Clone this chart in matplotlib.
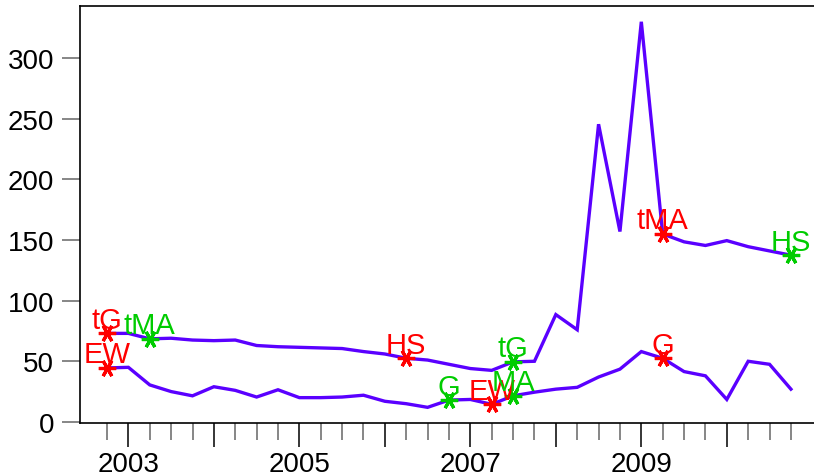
import matplotlib
matplotlib.use("Agg")
import matplotlib.pyplot as plt
import numpy as np
from matplotlib.ticker import FixedLocator, FuncFormatter

plt.rcParams["font.family"] = ["Liberation Sans", "DejaVu Sans"]

# quarterly observations, 2002Q4 .. 2010Q4
start_year = 2002.75
upper = [73, 73, 68.5, 69, 67.5, 67, 67.5, 63, 62, 61.5, 61, 60.5, 58, 56, 52.5,
         51, 47.5, 44, 42.5, 49.5, 50, 88.5, 76, 245.5, 157, 330, 155, 148.5,
         145.5, 149.5, 144.5, 141, 137.5]
lower = [44.5, 45, 30.5, 25, 21.5, 29, 26, 20.5, 26.5, 20, 20, 20.5, 22, 17, 15,
         12, 18, 18.5, 14.5, 21.5, 24.5, 27, 28.5, 37, 43.5, 58, 52.5, 41.5, 38,
         18.5, 50, 47.5, 27]

# event markers: (series, quarter index, label)
red_events = [("upper", 0, "tG"), ("lower", 0, "EW"), ("upper", 14, "HS"),
              ("lower", 18, "EW"), ("upper", 26, "tMA"), ("lower", 26, "G")]
green_events = [("upper", 2, "tMA"), ("lower", 16, "G"), ("upper", 19, "tG"),
                ("lower", 19, "MA"), ("upper", 32, "HS")]

line_color = "#5a00ff"
red = "#ff0000"
green = "#00cc00"

x = start_year + 0.25 * np.arange(len(upper))
series = {"upper": upper, "lower": lower}

fig = plt.figure(figsize=(8.14, 4.77), dpi=100)
ax = fig.add_axes([80 / 814, (477 - 423.5) / 477, (814 - 80) / 814, (423.5 - 7) / 477])

ax.plot(x, upper, color=line_color, lw=2.4, solid_joinstyle="miter", zorder=2)
ax.plot(x, lower, color=line_color, lw=2.4, solid_joinstyle="miter", zorder=2)

for events, col in ((red_events, red), (green_events, green)):
    for name, k, text in events:
        xv, yv = x[k], series[name][k]
        ax.plot(xv, yv, marker=(6, 2, 90), ms=12.5, mew=2.3, color=col,
                linestyle="none", zorder=3)
        ax.annotate(text, (xv, yv), xytext=(0, 4), textcoords="offset points",
                    ha="center", va="baseline", color=col, fontsize=21, zorder=4)

ax.set_xlim(2002.434, 2011.02)
ax.set_ylim(-0.5, 343)

ax.xaxis.set_major_locator(FixedLocator(np.arange(2003, 2011)))
ax.xaxis.set_minor_locator(FixedLocator(np.arange(2002.75, 2011.0, 0.25)))
ax.xaxis.set_major_formatter(FuncFormatter(lambda v, p: f"{int(v)}" if int(v) % 2 == 1 else ""))
ax.set_yticks(np.arange(0, 301, 50))

ax.tick_params(axis="x", which="major", length=17.5, width=1.1, color="black",
               labelsize=20, pad=3)
ax.tick_params(axis="x", which="minor", length=12.3, width=1.1, color="#666666")
ax.tick_params(axis="y", which="major", length=13, width=1.1, color="#666666",
               labelsize=20, pad=5.5)

ax.spines["right"].set_visible(False)
for s in ("top", "left", "bottom"):
    ax.spines[s].set_linewidth(1.2)
    ax.spines[s].set_color("black")

fig.savefig("out.png", dpi=100)
